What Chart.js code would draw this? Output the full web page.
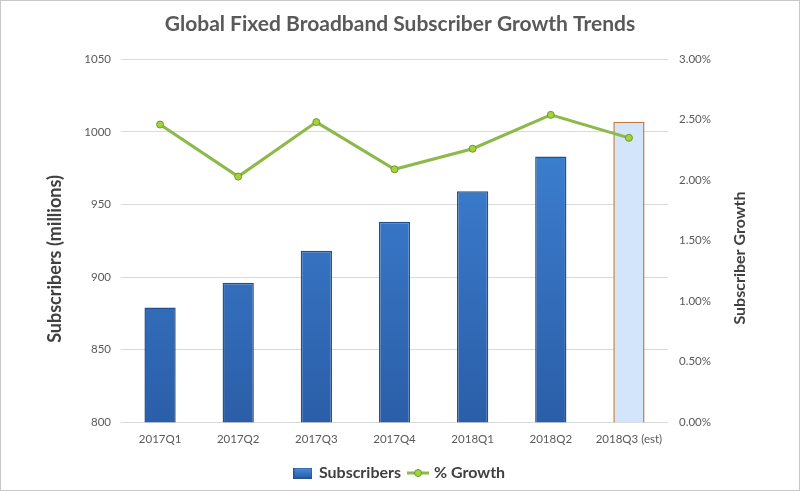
<!DOCTYPE html>
<html>
<head>
<meta charset="utf-8">
<script src="https://cdn.jsdelivr.net/npm/chart.js@4.4.0/dist/chart.umd.min.js"></script>
<style>
  html, body { margin: 0; padding: 0; background: #fff; }
  #wrap { width: 800px; height: 491px; position: relative; }
</style>
</head>
<body>
<div id="wrap"><canvas id="chart"></canvas></div>
<script>
const quarters = ["2017Q1", "2017Q2", "2017Q3", "2017Q4", "2018Q1", "2018Q2", "2018Q3 (est)"];
const subscribers = [879, 896, 918, 938, 959, 983, 1007];
const growth = [0.0246, 0.0203, 0.0248, 0.0209, 0.0226, 0.0254, 0.0235];
const leftTicks = [800, 850, 900, 950, 1000, 1050];
const rightTicks = [0, 0.005, 0.01, 0.015, 0.02, 0.025, 0.03];

const FONT = "Lato, 'Open Sans', sans-serif";
const GREY = "#595959";
const estIndex = quarters.length - 1;

const ctx = document.querySelector("#chart").getContext("2d");

function barFill(context) {
    const chart = context.chart;
    const area = chart.chartArea;
    if (context.dataIndex === estIndex) return "#d3e5fb";
    if (!area) return "#3572c6";
    const g = chart.ctx.createLinearGradient(0, area.top, 0, area.bottom);
    g.addColorStop(0, "#4189dc");
    g.addColorStop(1, "#2b5ea8");
    return g;
}

// little canvases used as legend symbols
function legendBox() {
    const c = document.createElement("canvas");
    c.width = 19; c.height = 11;
    const x = c.getContext("2d");
    const g = x.createLinearGradient(0, 0, 0, 11);
    g.addColorStop(0, "#4a92e2");
    g.addColorStop(1, "#2a5aa0");
    x.fillStyle = g;
    x.fillRect(0, 0, 19, 11);
    x.strokeStyle = "#24508e";
    x.strokeRect(0.5, 0.5, 18, 10);
    return c;
}
function legendLine() {
    const c = document.createElement("canvas");
    c.width = 22; c.height = 10;
    const x = c.getContext("2d");
    x.strokeStyle = "#8db84a";
    x.lineWidth = 3;
    x.beginPath(); x.moveTo(0, 5); x.lineTo(22, 5); x.stroke();
    x.fillStyle = "#a6d13c";
    x.strokeStyle = "#6f9a2a";
    x.lineWidth = 1;
    x.beginPath(); x.arc(11, 5, 3.5, 0, Math.PI * 2); x.fill(); x.stroke();
    return c;
}

function sideTitle(c, text, size, x, y) {
    c.save();
    c.fillStyle = "#404040";
    c.font = "bold " + size + "px " + FONT;
    c.textAlign = "center";
    c.textBaseline = "middle";
    c.translate(x, y);
    c.rotate(-Math.PI / 2);
    c.fillText(text, 0, 0);
    c.restore();
}

const frame = {
    id: "frame",
    beforeDraw(chart) {
        const c = chart.ctx;
        c.save();
        c.fillStyle = "#fff";
        c.fillRect(0, 0, chart.width, chart.height);
        c.restore();
    },
    afterDraw(chart) {
        const c = chart.ctx;
        c.save();
        c.strokeStyle = "#c8c8c8";
        c.lineWidth = 1;
        c.strokeRect(0.5, 0.5, chart.width - 1, chart.height - 1);
        c.restore();
        // axis titles, both read bottom to top
        sideTitle(c, "Subscribers (millions)", 18, 55, 259);
        sideTitle(c, "Subscriber Growth", 16, 740, 258);
    }
};

new Chart(ctx, {
    data: {
        labels: quarters,
        datasets: [
            {
                type: "line",
                label: "% Growth",
                data: growth,
                yAxisID: "y1",
                borderColor: "#8db84a",
                borderWidth: 3,
                pointRadius: 3.5,
                pointBackgroundColor: "#a6d13c",
                pointBorderColor: "#6f9a2a",
                pointBorderWidth: 1,
                tension: 0,
                order: 0
            },
            {
                type: "bar",
                label: "Subscribers",
                data: subscribers,
                yAxisID: "y",
                backgroundColor: barFill,
                borderColor: quarters.map((q, i) => i === estIndex ? "#c47a3e" : "#24508e"),
                borderWidth: 1.5,
                borderSkipped: "bottom",
                categoryPercentage: 0.8,
                barPercentage: 0.5,
                order: 1
            }
        ]
    },
    options: {
        responsive: true,
        maintainAspectRatio: false,
        animation: false,
        layout: { padding: { top: 0, right: 0, bottom: 0, left: 0 } },
        plugins: {
            title: {
                display: true,
                text: "Global Fixed Broadband Subscriber Growth Trends",
                color: GREY,
                font: { family: FONT, size: 21, weight: "bold" },
                padding: { top: 12, bottom: 22 }
            },
            legend: {
                position: "bottom",
                labels: {
                    usePointStyle: true,
                    color: "#404040",
                    font: { family: FONT, size: 16, weight: "bold" },
                    padding: 9,
                    generateLabels(chart) {
                        return [
                            { text: "Subscribers", pointStyle: legendBox(), datasetIndex: 1, fontColor: "#404040", lineWidth: 0 },
                            { text: "% Growth", pointStyle: legendLine(), datasetIndex: 0, fontColor: "#404040", lineWidth: 0 }
                        ];
                    }
                }
            },
            tooltip: { enabled: false }
        },
        scales: {
            x: {
                grid: { display: false, drawTicks: false },
                border: { display: false },
                ticks: { color: GREY, font: { family: FONT, size: 11.5 }, padding: 10, maxRotation: 0 }
            },
            y: {
                position: "left",
                min: 800,
                max: 1050,
                afterBuildTicks(axis) { axis.ticks = leftTicks.map(v => ({ value: v })); },
                grid: { color: "#d9d9d9", drawTicks: false },
                border: { display: false },
                ticks: { color: GREY, font: { family: FONT, size: 11.5 }, padding: 10, callback: v => String(v) },
                afterFit(axis) { axis.width = 121; }
            },
            y1: {
                position: "right",
                min: 0,
                max: 0.03,
                afterBuildTicks(axis) { axis.ticks = rightTicks.map(v => ({ value: v })); },
                grid: { display: false, drawTicks: false },
                border: { display: false },
                ticks: {
                    color: GREY,
                    font: { family: FONT, size: 11.5 },
                    padding: 11,
                    callback: v => (v * 100).toFixed(2) + "%"
                },
                afterFit(axis) { axis.width = 132; }
            }
        }
    },
    plugins: [frame]
});
</script>
</body>
</html>
